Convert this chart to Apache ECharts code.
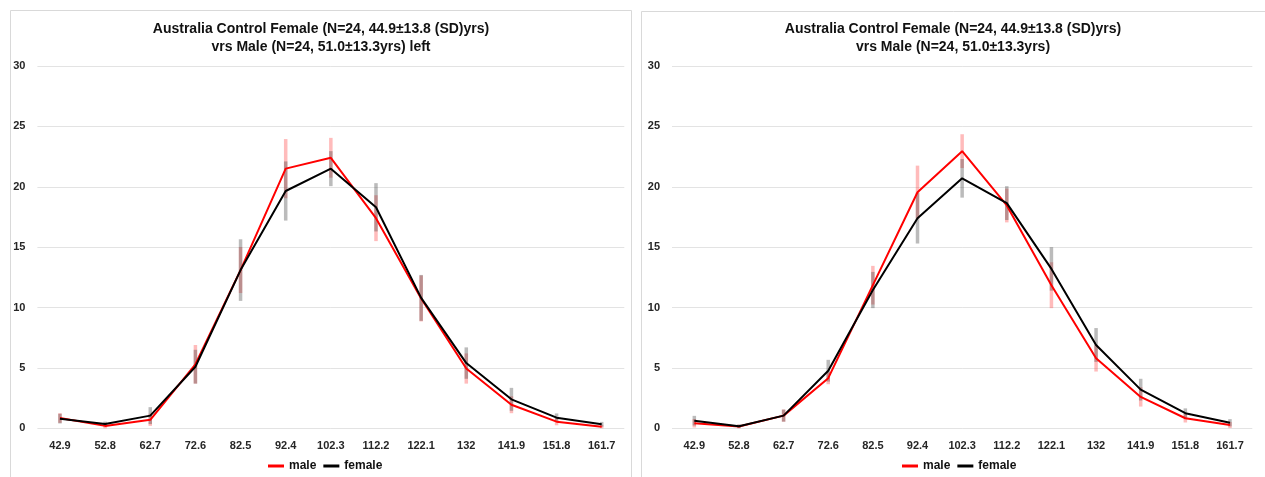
<!DOCTYPE html>
<html>
<head>
<meta charset="utf-8">
<script src="https://cdn.jsdelivr.net/npm/echarts@6/dist/echarts.min.js"></script>
<style>
html,body{margin:0;padding:0;background:#fff;}
#c{width:1265px;height:477px;}
</style>
</head>
<body>
<div id="c"></div>
<script>
// ---- data ----
const categories = ['42.9','52.8','62.7','72.6','82.5','92.4','102.3','112.2','122.1','132','141.9','151.8','161.7'];
const yTicks = [0, 5, 10, 15, 20, 25, 30];

const titleLeft = 'Australia Control Female (N=24, 44.9±13.8 (SD)yrs)\nvrs Male (N=24, 51.0±13.3yrs) left';
const titleRight = 'Australia Control Female (N=24, 44.9±13.8 (SD)yrs)\nvrs Male (N=24, 51.0±13.3yrs)';

const leftMale      = [0.85, 0.2, 0.7, 5.3, 13.1, 21.5, 22.4, 17.4, 10.75, 4.95, 1.95, 0.55, 0.13];
const leftFemale    = [0.8, 0.35, 1.05, 5.1, 13.1, 19.65, 21.5, 18.3, 10.8, 5.4, 2.4, 0.88, 0.33];
const leftMaleErr   = [0.4, 0.2, 0.5, 1.6, 1.9, 2.45, 1.65, 1.9, 1.9, 1.25, 0.7, 0.3, 0.15];
const leftFemaleErr = [0.4, 0.2, 0.7, 1.4, 2.55, 2.45, 1.45, 2.0, 1.9, 1.3, 0.95, 0.35, 0.2];

const rightMale      = [0.42, 0.15, 1.05, 4.15, 11.85, 19.55, 22.95, 18.45, 11.85, 5.8, 2.6, 0.83, 0.27];
const rightFemale    = [0.63, 0.17, 1.05, 4.77, 11.45, 17.4, 20.7, 18.65, 13.2, 6.9, 3.2, 1.25, 0.46];
const rightMaleErr   = [0.35, 0.15, 0.5, 0.5, 1.6, 2.2, 1.4, 1.4, 1.9, 1.1, 0.8, 0.35, 0.25];
const rightFemaleErr = [0.4, 0.15, 0.5, 0.9, 1.5, 2.1, 1.6, 1.4, 1.8, 1.4, 0.9, 0.4, 0.3];

// ---- helpers ----
const FONT = '"Liberation Sans", Arial, sans-serif';

function errData(vals, errs) {
  return vals.map((v, i) => [i, v, errs[i]]);
}
function errSeries(name, vals, errs, color, idx) {
  return {
    type: 'custom', name: name, xAxisIndex: idx, yAxisIndex: idx, z: 1,
    silent: true,
    data: errData(vals, errs),
    renderItem: function (params, api) {
      const x = api.value(0), y = api.value(1), e = api.value(2);
      const top = api.coord([x, y + e]);
      const bot = api.coord([x, Math.max(0, y - e)]);
      return {
        type: 'rect',
        shape: { x: top[0] - 1.75, y: top[1], width: 3.5, height: bot[1] - top[1] },
        style: { fill: color }
      };
    }
  };
}
function lineSeries(name, vals, color, idx) {
  return {
    type: 'line', name: name, xAxisIndex: idx, yAxisIndex: idx, z: 3,
    data: vals, symbol: 'none', lineStyle: { color: color, width: 2 },
    itemStyle: { color: color }
  };
}
function xAx(idx) {
  return {
    type: 'category', gridIndex: idx, data: categories, boundaryGap: true,
    axisLine: { show: false }, axisTick: { show: false },
    axisLabel: { color: '#262626', fontWeight: 'bold', fontSize: 11, fontFamily: FONT, margin: 12 }
  };
}
function yAx(idx) {
  return {
    type: 'value', gridIndex: idx, min: yTicks[0], max: yTicks[yTicks.length - 1], interval: yTicks[1] - yTicks[0],
    axisLine: { show: false }, axisTick: { show: false },
    axisLabel: { color: '#262626', fontWeight: 'bold', fontSize: 11, fontFamily: FONT, margin: 12 },
    splitLine: { lineStyle: { color: '#e3e3e3', width: 1 } }
  };
}
const titleStyle = { fontWeight: 'bold', fontSize: 14, color: '#111', fontFamily: FONT, lineHeight: 18 };
const legendText = { fontWeight: 'bold', fontSize: 12, color: '#111', fontFamily: FONT };

const chart = echarts.init(document.getElementById('c'), null, { renderer: 'canvas' });
chart.setOption({
  animation: false,
  backgroundColor: '#fff',
  graphic: [
    { type: 'rect', shape: { x: 10.5, y: 10.5, width: 621, height: 490 }, style: { fill: 'none', stroke: '#d9d9d9', lineWidth: 1 }, z: -1 },
    { type: 'rect', shape: { x: 641.5, y: 11.5, width: 640, height: 490 }, style: { fill: 'none', stroke: '#d9d9d9', lineWidth: 1 }, z: -1 }
  ],
  title: [
    { text: titleLeft, left: 321, top: 20, textAlign: 'center', padding: 0, textStyle: titleStyle },
    { text: titleRight, left: 953, top: 20, textAlign: 'center', padding: 0, textStyle: titleStyle }
  ],
  legend: [
    { data: ['male', 'female'], left: 268, top: 460, icon: 'rect', itemWidth: 16, itemHeight: 3, itemGap: 7, padding: 0, textStyle: legendText },
    { data: ['male', 'female'], left: 902, top: 460, icon: 'rect', itemWidth: 16, itemHeight: 3, itemGap: 7, padding: 0, textStyle: legendText }
  ],
  grid: [
    { left: 37.4, right: 640.7, top: 66, bottom: 48.7, containLabel: false },
    { left: 672, right: 12.7, top: 66, bottom: 48.7, containLabel: false }
  ],
  xAxis: [xAx(0), xAx(1)],
  yAxis: [yAx(0), yAx(1)],
  series: [
    errSeries('maleErrL', leftMale, leftMaleErr, 'rgba(255,60,60,0.35)', 0),
    errSeries('femaleErrL', leftFemale, leftFemaleErr, 'rgba(60,60,60,0.35)', 0),
    lineSeries('male', leftMale, '#ff0000', 0),
    lineSeries('female', leftFemale, '#000000', 0),
    errSeries('maleErrR', rightMale, rightMaleErr, 'rgba(255,60,60,0.35)', 1),
    errSeries('femaleErrR', rightFemale, rightFemaleErr, 'rgba(60,60,60,0.35)', 1),
    lineSeries('male', rightMale, '#ff0000', 1),
    lineSeries('female', rightFemale, '#000000', 1)
  ]
});
</script>
</body>
</html>
